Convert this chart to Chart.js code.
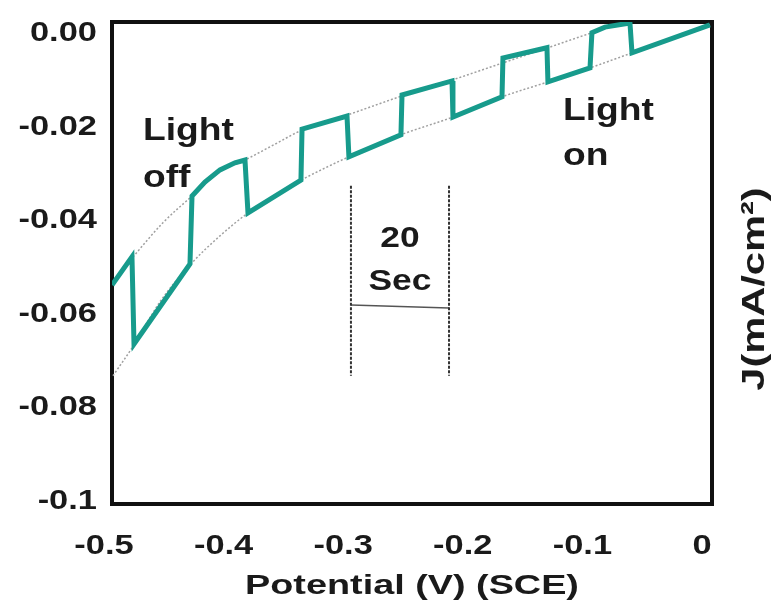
<!DOCTYPE html>
<html>
<head>
<meta charset="utf-8">
<title>Chopped light J-V</title>
<script src="https://cdn.jsdelivr.net/npm/chart.js@4.4.1/dist/chart.umd.min.js"></script>
<style>
	body { margin: 0; background: #fff; }
	#wrap { width: 773px; height: 608px; }
</style>
</head>
<body>
<div id="wrap"><canvas id="myChart"></canvas></div>
<script>
// chopped light scan: potential (V vs SCE) and current density (mA/cm2)
const chopV = [-0.4933, -0.4766, -0.4749, -0.4281, -0.4264, -0.4156, -0.4030, -0.3905, -0.3821, -0.3796,
	-0.3353, -0.3344, -0.2968, -0.2952, -0.2517, -0.2508, -0.2090, -0.2082, -0.1672, -0.1664,
	-0.1296, -0.1288, -0.0936, -0.0920, -0.0811, -0.0602, -0.0585, 0.0067];
const chopJ = [-0.0542, -0.0482, -0.0668, -0.0497, -0.0352, -0.0322, -0.0296, -0.0281, -0.0275, -0.0388,
	-0.0318, -0.0209, -0.0181, -0.0268, -0.0221, -0.0136, -0.0106, -0.0183, -0.0140, -0.0057,
	-0.0035, -0.0108, -0.0078, -0.0003, 0.0009, 0.0018, -0.0046, 0.0014];

// dotted guide curves through the upper and lower steps
const upperV = [-0.4758, -0.4507, -0.4264, -0.4030, -0.3821, -0.3570, -0.3344, -0.2968, -0.2508, -0.2090, -0.1672, -0.1288, -0.0920, -0.0644];
const upperJ = [-0.0482, -0.0409, -0.0352, -0.0300, -0.0275, -0.0241, -0.0211, -0.0179, -0.0138, -0.0104, -0.0068, -0.0035, -0.0003, 0.0019];
const lowerV = [-0.4925, -0.4749, -0.4532, -0.4273, -0.4030, -0.3796, -0.3570, -0.3353, -0.2952, -0.2517, -0.2082, -0.1672, -0.1288, -0.0936, -0.0585, 0.0067];
const lowerJ = [-0.0736, -0.0670, -0.0578, -0.0497, -0.0437, -0.0388, -0.0350, -0.0318, -0.0268, -0.0221, -0.0183, -0.0140, -0.0108, -0.0078, -0.0046, 0.0014];

// 20 s time marker
const markV = [-0.2935, -0.2115];
const markJ = [-0.0330, -0.0736];
const spanJ = [-0.0585, -0.0591];

const xTicks = [-0.5, -0.4, -0.3, -0.2, -0.1, 0];
const xTickText = ['-0.5', '-0.4', '-0.3', '-0.2', '-0.1', '0'];
const yTicks = [0, -0.02, -0.04, -0.06, -0.08, -0.1];
const yTickText = ['0.00', '-0.02', '-0.04', '-0.06', '-0.08', '-0.1'];

const FONT = '"Liberation Sans", Arial, sans-serif';
const INK = '#1a1a1a';

function pts(xs, ys) {
	return xs.map((x, i) => ({ x: x, y: ys[i] }));
}

// bold lettering, widened horizontally
function wideText(ctx, str, x, y, size, stretch, align, baseline, angle) {
	ctx.save();
	ctx.translate(x, y);
	if (angle) ctx.rotate(angle);
	ctx.scale(stretch, 1);
	ctx.font = 'bold ' + size + 'px ' + FONT;
	ctx.fillStyle = INK;
	ctx.textAlign = align;
	ctx.textBaseline = baseline;
	ctx.fillText(str, 0, 0);
	ctx.restore();
}

const frame = {
	id: 'frame',
	beforeDatasetsDraw(chart) {
		const { ctx, chartArea: a } = chart;
		ctx.save();
		ctx.strokeStyle = '#111';
		ctx.lineWidth = 4;
		ctx.strokeRect(a.left, a.top, a.right - a.left, a.bottom - a.top);
		ctx.restore();
	},
};

const labels = {
	id: 'labels',
	afterDraw(chart) {
		const ctx = chart.ctx;
		const sx = chart.scales.x, sy = chart.scales.y;
		const a = chart.chartArea;
		const px = (v) => sx.getPixelForValue(v);
		const py = (j) => sy.getPixelForValue(j);

		yTicks.forEach((t, i) => wideText(ctx, yTickText[i], a.left - 15, py(t) + 2, 28, 1.23, 'right', 'middle'));
		xTicks.forEach((t, i) => wideText(ctx, xTickText[i], px(t), 546, 28, 1.23, 'center', 'middle'));

		wideText(ctx, 'Potential (V) (SCE)', (a.left + a.right) / 2, 594, 27, 1.4, 'center', 'alphabetic');
		wideText(ctx, 'J(mA/cm²)', 755, 289, 32, 1.3, 'center', 'middle', -Math.PI / 2);

		wideText(ctx, 'Light', px(-0.4674), py(-0.0232), 31, 1.2, 'left', 'alphabetic');
		wideText(ctx, 'off', px(-0.4674), py(-0.0332), 31, 1.2, 'left', 'alphabetic');
		wideText(ctx, 'Light', px(-0.1162), py(-0.0189), 31, 1.2, 'left', 'alphabetic');
		wideText(ctx, 'on', px(-0.1162), py(-0.0285), 31, 1.2, 'left', 'alphabetic');
		wideText(ctx, '20', px(-0.2525), py(-0.0461), 30, 1.18, 'center', 'alphabetic');
		wideText(ctx, 'Sec', px(-0.2525), py(-0.0553), 30, 1.18, 'center', 'alphabetic');
	},
};

const ctx = document.getElementById('myChart').getContext('2d');
const myChart = new Chart(ctx, {
	type: 'scatter',
	data: {
		datasets: [
			{
				data: pts(chopV, chopJ),
				showLine: true,
				borderColor: '#179b8c',
				borderWidth: 5,
				pointRadius: 0,
			},
			{
				data: pts(upperV, upperJ),
				showLine: true,
				cubicInterpolationMode: 'monotone',
				borderColor: '#a0a0a0',
				borderWidth: 1.5,
				borderDash: [2, 2],
				pointRadius: 0,
			},
			{
				data: pts(lowerV, lowerJ),
				showLine: true,
				cubicInterpolationMode: 'monotone',
				borderColor: '#a0a0a0',
				borderWidth: 1.5,
				borderDash: [2, 2],
				pointRadius: 0,
			},
			{
				data: pts([markV[0], markV[0]], markJ),
				showLine: true,
				borderColor: '#333',
				borderWidth: 2,
				borderDash: [3, 1.5],
				pointRadius: 0,
			},
			{
				data: pts([markV[1], markV[1]], markJ),
				showLine: true,
				borderColor: '#333',
				borderWidth: 2,
				borderDash: [3, 1.5],
				pointRadius: 0,
			},
			{
				data: pts(markV, spanJ),
				showLine: true,
				borderColor: '#555',
				borderWidth: 1.5,
				pointRadius: 0,
			},
		],
	},
	options: {
		responsive: true,
		maintainAspectRatio: false,
		animation: false,
		layout: { padding: { left: 0, top: 22, right: 61, bottom: 0 } },
		plugins: { legend: { display: false }, tooltip: { enabled: false } },
		scales: {
			x: {
				type: 'linear',
				min: -0.4933,
				max: 0.0084,
				grid: { display: false, drawTicks: false },
				border: { display: false },
				ticks: { display: false },
				afterFit: (s) => { s.height = 104; },
			},
			y: {
				type: 'linear',
				min: -0.101,
				max: 0.002,
				grid: { display: false, drawTicks: false },
				border: { display: false },
				ticks: { display: false },
				afterFit: (s) => { s.width = 112; },
			},
		},
	},
	plugins: [frame, labels],
});
</script>
</body>
</html>
